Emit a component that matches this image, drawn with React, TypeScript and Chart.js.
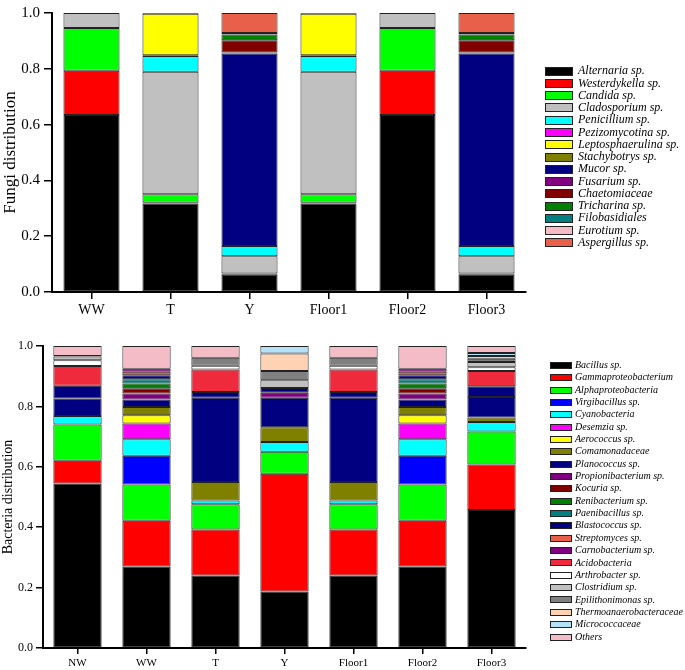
import React, { useEffect, useRef } from "react";
import { Chart, registerables } from "chart.js";

Chart.register(...registerables);

const FONT = "'Liberation Serif', 'Times New Roman', serif";

// ---------- Fungi (top chart) ----------
const fungiCategories = ["WW", "T", "Y", "Floor1", "Floor2", "Floor3"];
const fungiSpecies = [
  "Alternaria sp.", "Westerdykella sp.", "Candida sp.", "Cladosporium sp.", "Penicillium sp.",
  "Pezizomycotina sp.", "Leptosphaerulina sp.", "Stachybotrys sp.", "Mucor sp.", "Fusarium sp.",
  "Chaetomiaceae", "Tricharina sp.", "Filobasidiales", "Eurotium sp.", "Aspergillus sp.",
];
const fungiColors = [
  "#000000", "#FF0000", "#00FF00", "#C0C0C0", "#00FFFF",
  "#FF00FF", "#FFFF00", "#808000", "#000080", "#800080",
  "#800000", "#008000", "#008080", "#F4BCC6", "#E8604A",
];
const fungiWW = [0.634, 0.159, 0.153, 0.054, 0, 0, 0, 0, 0, 0, 0, 0, 0, 0, 0];
const fungiT = [0.317, 0.003, 0.030, 0.439, 0.057, 0.003, 0.148, 0.003, 0, 0, 0, 0, 0, 0, 0];
const fungiY = [0.062, 0, 0.004, 0.062, 0.037, 0, 0, 0, 0.690, 0.003, 0.044, 0.021, 0.005, 0, 0.072];
const fungiFloor1 = [0.317, 0.003, 0.030, 0.439, 0.057, 0.003, 0.148, 0.003, 0, 0, 0, 0, 0, 0, 0];
const fungiFloor2 = [0.634, 0.159, 0.153, 0.054, 0, 0, 0, 0, 0, 0, 0, 0, 0, 0, 0];
const fungiFloor3 = [0.062, 0, 0.004, 0.062, 0.037, 0, 0, 0, 0.690, 0.003, 0.044, 0.021, 0.005, 0, 0.072];
const fungiRows = [fungiWW, fungiT, fungiY, fungiFloor1, fungiFloor2, fungiFloor3];

// ---------- Bacteria (bottom chart) ----------
const bacteriaCategories = ["NW", "WW", "T", "Y", "Floor1", "Floor2", "Floor3"];
const bacteriaSpecies = [
  "Bacillus sp.", "Gammaproteobacterium", "Alphaproteobacteria", "Virgibacillus sp.", "Cyanobacteria",
  "Desemzia sp.", "Aerococcus sp.", "Comamonadaceae", "Planococcus sp.", "Propionibacterium sp.",
  "Kocuria sp.", "Renibacterium sp.", "Paenibacillus sp.", "Blastococcus sp.", "Streptomyces sp.",
  "Carnobacterium sp.", "Acidobacteria", "Arthrobacter sp.", "Clostridium sp.", "Epilithonimonas sp.",
  "Thermoanaerobacteraceae", "Micrococcaceae", "Others",
];
const bacteriaColors = [
  "#000000", "#FF0000", "#00FF00", "#0000FF", "#00FFFF",
  "#FF00FF", "#FFFF00", "#808000", "#000080", "#800080",
  "#800000", "#008000", "#008080", "#000080", "#E8604A",
  "#800080", "#EE2A3C", "#FFFFFF", "#C0C0C0", "#808080",
  "#FFD2B4", "#B4E1F5", "#F4BCC6",
];
const bacteriaNW = [0.545, 0.075, 0.120, 0, 0.028, 0, 0, 0, 0.058, 0, 0, 0, 0, 0.042, 0, 0, 0.066, 0.019, 0.012, 0.002, 0, 0, 0.033];
const bacteriaWW = [0.270, 0.151, 0.120, 0.096, 0.054, 0.052, 0.028, 0.027, 0.025, 0.020, 0.017, 0.016, 0.014, 0.013, 0.012, 0.010, 0, 0, 0, 0, 0, 0, 0.075];
const bacteriaT = [0.240, 0.152, 0.084, 0, 0.012, 0, 0, 0.062, 0.279, 0, 0, 0, 0, 0.019, 0, 0, 0.074, 0.013, 0, 0.026, 0, 0, 0.039];
const bacteriaY = [0.187, 0.390, 0.073, 0, 0.032, 0, 0, 0.049, 0.098, 0.016, 0, 0, 0, 0.016, 0, 0, 0, 0, 0.026, 0.030, 0.058, 0.025, 0];
const bacteriaFloor1 = [0.240, 0.152, 0.084, 0, 0.012, 0, 0, 0.062, 0.279, 0, 0, 0, 0, 0.019, 0, 0, 0.074, 0.013, 0, 0.026, 0, 0, 0.039];
const bacteriaFloor2 = [0.270, 0.151, 0.120, 0.096, 0.054, 0.052, 0.028, 0.027, 0.025, 0.020, 0.017, 0.016, 0.014, 0.013, 0.012, 0.010, 0, 0, 0, 0, 0, 0, 0.075];
const bacteriaFloor3 = [0.457, 0.151, 0.109, 0, 0.031, 0, 0, 0.015, 0.068, 0, 0, 0, 0, 0.036, 0, 0, 0.050, 0.013, 0.017, 0.011, 0.009, 0.010, 0.023];
const bacteriaRows = [bacteriaNW, bacteriaWW, bacteriaT, bacteriaY, bacteriaFloor1, bacteriaFloor2, bacteriaFloor3];

const yTicks = [0, 0.2, 0.4, 0.6, 0.8, 1.0];

const sideLegend = {
  id: "sideLegend",
  afterDraw(chart: any, _args: any, opts: any) {
    const { ctx } = chart;
    ctx.save();
    ctx.font = `italic ${opts.fontSize}px ${FONT}`;
    ctx.textBaseline = "middle";
    ctx.textAlign = "left";
    chart.data.datasets.forEach((ds: any, i: number) => {
      const cy = opts.y0 + i * opts.dy;
      const top = Math.round(cy - opts.boxH / 2);
      ctx.fillStyle = ds.backgroundColor;
      ctx.fillRect(opts.x, top, opts.boxW, opts.boxH);
      ctx.strokeStyle = "#222";
      ctx.lineWidth = 1;
      ctx.strokeRect(opts.x + 0.5, top + 0.5, opts.boxW - 1, opts.boxH - 1);
      ctx.fillStyle = "#000";
      ctx.fillText(ds.label, opts.textX, cy);
    });
    ctx.restore();
  },
};

function buildDatasets(species: string[], colors: string[], rows: number[][], barPct: number) {
  return species.map((name, i) => ({
    label: name,
    data: rows.map((r) => (r[i] > 0 ? r[i] : null)),
    backgroundColor: colors[i],
    borderColor: "#222",
    borderWidth: 1,
    borderSkipped: false as const,
    categoryPercentage: 1,
    barPercentage: barPct,
  }));
}

function makeOptions(cfg: any) {
  return {
    responsive: false,
    animation: false as const,
    layout: { padding: { left: 0, top: cfg.padTop, right: cfg.padRight, bottom: 0 } },
    plugins: {
      legend: { display: false },
      tooltip: { enabled: false },
      sideLegend: cfg.legend,
    },
    scales: {
      x: {
        stacked: true,
        grid: { display: true, drawOnChartArea: false, drawTicks: true, tickLength: cfg.xTickLen, color: "#000", lineWidth: 1.5, offset: false },
        border: { display: true, color: "#000", width: 2 },
        ticks: { color: "#000", font: { family: FONT, size: cfg.xFont }, padding: cfg.xPad, maxRotation: 0, autoSkip: false },
        afterFit: (s: any) => { s.height = cfg.xHeight; },
      },
      y: {
        stacked: true,
        min: 0,
        max: 1,
        afterBuildTicks: (s: any) => { s.ticks = yTicks.map((v) => ({ value: v })); },
        ticks: { color: "#000", font: { family: FONT, size: cfg.yFont }, padding: cfg.yPad, callback: (v: any) => Number(v).toFixed(1) },
        grid: { display: true, drawOnChartArea: false, drawTicks: true, tickLength: cfg.yTickLen, color: "#000", lineWidth: 1.5 },
        border: { display: true, color: "#000", width: 2 },
        title: { display: true, text: cfg.yTitle, color: "#000", font: { family: FONT, size: cfg.titleFont }, padding: 0 },
        afterFit: (s: any) => { s.width = cfg.yWidth; },
      },
    },
  };
}

function ChartCanvas({ config, width, height, top }: any) {
  const ref = useRef<HTMLCanvasElement>(null);
  useEffect(() => {
    if (!ref.current) return;
    const chart = new Chart(ref.current, config);
    return () => chart.destroy();
  }, []);
  return (
    <canvas
      ref={ref}
      width={width}
      height={height}
      style={{ position: "absolute", left: 0, top, width, height }}
    />
  );
}

export default function App() {
  const fungiConfig: any = {
    type: "bar",
    data: { labels: fungiCategories, datasets: buildDatasets(fungiSpecies, fungiColors, fungiRows, 0.71) },
    options: makeOptions({
      padTop: 8, padRight: 159, xTickLen: 7, xFont: 14, xPad: 3, xHeight: 28,
      yFont: 15, yPad: 4, yTickLen: 8, yTitle: "Fungi distribution", titleFont: 17, yWidth: 52,
      legend: { x: 545, boxW: 28, boxH: 9, textX: 578, y0: 71.2, dy: 12.26, fontSize: 12 },
    }),
    plugins: [sideLegend],
  };
  const bacteriaConfig: any = {
    type: "bar",
    data: { labels: bacteriaCategories, datasets: buildDatasets(bacteriaSpecies, bacteriaColors, bacteriaRows, 0.7) },
    options: makeOptions({
      padTop: 26, padRight: 159, xTickLen: 6, xFont: 11, xPad: 3, xHeight: 22,
      yFont: 12, yPad: 3, yTickLen: 7, yTitle: "Bacteria distribution", titleFont: 14, yWidth: 43,
      legend: { x: 550, boxW: 22, boxH: 7, textX: 575, y0: 45.3, dy: 12.35, fontSize: 10 },
    }),
    plugins: [sideLegend],
  };
  return (
    <div style={{ position: "absolute", left: 0, top: 0, width: 685, height: 670, background: "#fff" }}>
      <ChartCanvas config={fungiConfig} width={685} height={320} top={0} />
      <ChartCanvas config={bacteriaConfig} width={685} height={350} top={320} />
    </div>
  );
}
